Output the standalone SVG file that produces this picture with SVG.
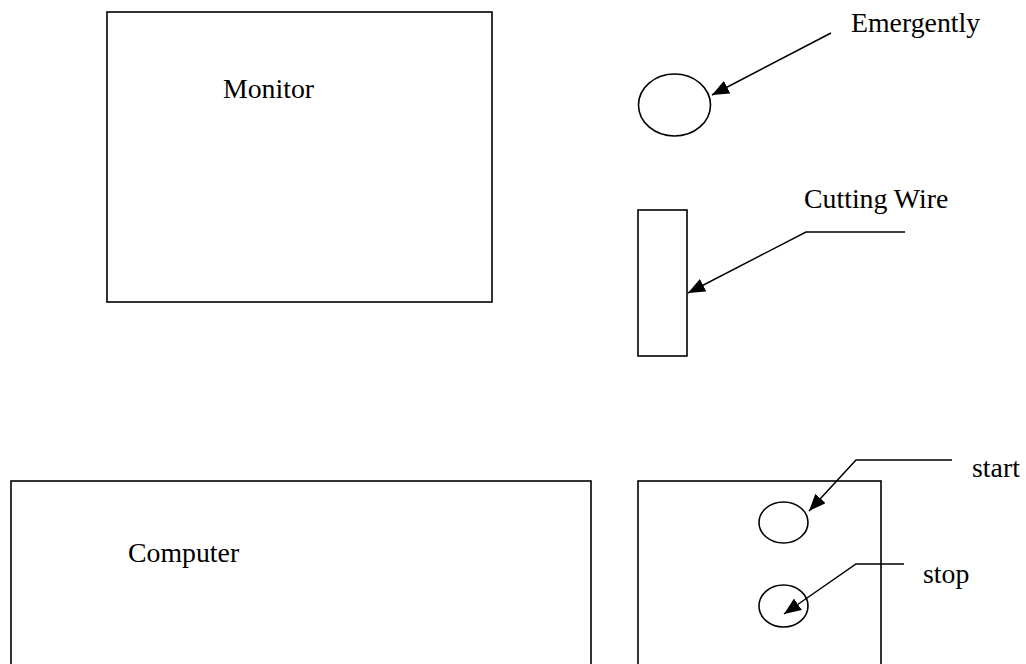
<svg xmlns="http://www.w3.org/2000/svg" width="1026" height="664" viewBox="0 0 1026 664">
<style>
.shape{fill:none;stroke:#000;stroke-width:1.6}
.line{fill:none;stroke:#000;stroke-width:1.5}
.lbl{font-family:"Liberation Serif","Times New Roman",serif;font-size:27.8px;fill:#000}
</style>
<defs>
<marker id="arr" markerUnits="userSpaceOnUse" markerWidth="18" markerHeight="14" refX="17" refY="7" orient="auto">
<path d="M0,0 L17,7 L0,14 z" fill="#000"/>
</marker>
</defs>
<rect width="1026" height="664" fill="#fff"/>
<g id="monitor">
<rect class="shape" x="107" y="12" width="385" height="290"/>
<text class="lbl" x="223" y="98">Monitor</text>
</g>
<g id="emergently">
<ellipse class="shape" cx="674.5" cy="105" rx="36" ry="31"/>
<text class="lbl" x="851" y="32">Emergently</text>
</g>
<g id="cutting-wire">
<rect class="shape" x="638" y="210" width="49" height="146"/>
<text class="lbl" x="804" y="208">Cutting Wire</text>
</g>
<g id="computer">
<rect class="shape" x="11" y="481" width="580" height="200"/>
<text class="lbl" x="128" y="562">Computer</text>
</g>
<g id="panel">
<rect class="shape" x="638" y="481" width="243" height="200"/>
</g>
<g id="start">
<ellipse class="shape" cx="783.5" cy="522.5" rx="24.5" ry="20.5"/>
<text class="lbl" x="972" y="477">start</text>
</g>
<g id="stop">
<ellipse class="shape" cx="783.5" cy="606" rx="24.5" ry="21"/>
<text class="lbl" x="923" y="583">stop</text>
</g>
<g id="connectors">
<line class="line" x1="831" y1="33" x2="712" y2="95" marker-end="url(#arr)"/>
<polyline class="line" points="905,232 806,232 688,293" marker-end="url(#arr)"/>
<polyline class="line" points="952,460 856,460 809,511" marker-end="url(#arr)"/>
<polyline class="line" points="904,564 856,564 784,614" marker-end="url(#arr)"/>
</g>
</svg>
